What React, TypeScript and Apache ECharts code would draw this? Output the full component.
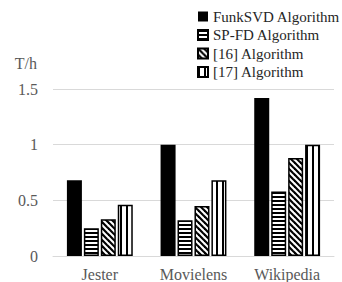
import React, { useEffect, useRef } from "react";
import * as echarts from "echarts";

const categories = ["Jester", "Movielens", "Wikipedia"];
const seriesNames = ["FunkSVD Algorithm", "SP-FD Algorithm", "[16] Algorithm", "[17] Algorithm"];
const funkSVD = [0.68, 1.0, 1.42];
const spFD = [0.25, 0.32, 0.58];
const alg16 = [0.33, 0.45, 0.88];
const alg17 = [0.46, 0.68, 1.0];
const yTicks = { min: 0, max: 1.5, interval: 0.5 };

function makeTile(kind: string): HTMLCanvasElement {
  const c = document.createElement("canvas");
  const ctx = c.getContext("2d")!;
  if (kind === "h") {
    c.width = 4; c.height = 4;
    ctx.fillStyle = "#fff"; ctx.fillRect(0, 0, 4, 4);
    ctx.fillStyle = "#000"; ctx.fillRect(0, 0, 4, 2);
  } else if (kind === "d") {
    c.width = 6; c.height = 6;
    ctx.fillStyle = "#fff"; ctx.fillRect(0, 0, 6, 6);
    ctx.strokeStyle = "#000"; ctx.lineWidth = 2.2;
    for (let k = -2; k <= 2; k++) {
      ctx.beginPath();
      ctx.moveTo(k * 6 - 6, -6);
      ctx.lineTo(k * 6 + 12, 12);
      ctx.stroke();
    }
  } else {
    c.width = 6; c.height = 4;
    ctx.fillStyle = "#fff"; ctx.fillRect(0, 0, 6, 4);
    ctx.fillStyle = "#000"; ctx.fillRect(0, 0, 2, 4);
  }
  return c;
}

export default function App() {
  const ref = useRef<HTMLDivElement>(null);
  useEffect(() => {
    if (!ref.current) return;
    const chart = echarts.init(ref.current, undefined, { renderer: "svg" });
    const pat = (k: string) => {
      const t = makeTile(k);
      return { image: t, repeat: "repeat" } as any;
    };
    const font = "Liberation Serif";
    const fills: any[] = ["#000", pat("h"), pat("d"), pat("v")];
    const datas = [funkSVD, spFD, alg16, alg17];
    chart.setOption({
      animation: false,
      grid: { left: 53, right: 8, top: 89, bottom: 26 },
      legend: {
        orient: "vertical",
        left: 192,
        top: 4,
        itemWidth: 10,
        itemHeight: 10,
        itemGap: 3.5,
        icon: "rect",
        textStyle: { fontFamily: font, fontSize: 15, color: "#262626" },
        data: seriesNames,
      },
      xAxis: {
        type: "category",
        data: categories,
        axisLine: { lineStyle: { color: "#d9d9d9", width: 1 } },
        axisTick: { show: false },
        axisLabel: { fontFamily: font, fontSize: 16, color: "#595959", margin: 10 },
      },
      yAxis: {
        type: "value",
        min: yTicks.min,
        max: yTicks.max,
        interval: yTicks.interval,
        name: "T/h",
        nameLocation: "end",
        nameGap: 18,
        nameTextStyle: { fontFamily: font, fontSize: 16, color: "#595959", align: "right", padding: [0, 16, 0, 0] },
        axisLine: { show: false },
        axisTick: { show: false },
        splitLine: { lineStyle: { color: "#d9d9d9", width: 1 } },
        axisLabel: { fontFamily: font, fontSize: 16, color: "#595959", margin: 15 },
      },
      series: seriesNames.map((n, i) => ({
        name: n,
        type: "bar",
        data: datas[i],
        barWidth: 15,
        barGap: "13%",
        itemStyle: { color: fills[i], borderColor: "#000", borderWidth: i === 0 ? 0 : 1.5 },
      })),
    });
    return () => chart.dispose();
  }, []);
  return <div ref={ref} style={{ width: 342, height: 282, position: "absolute", left: 0, top: 0 }} />;
}
